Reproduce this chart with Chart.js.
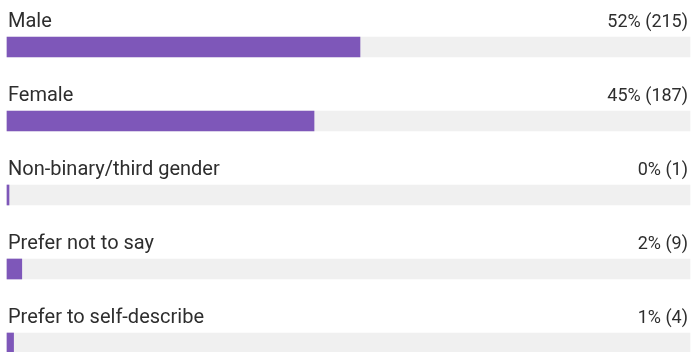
<!DOCTYPE html>
<html>
<head>
<meta charset="utf-8">
<script src="https://cdn.jsdelivr.net/npm/chart.js@4"></script>
<style>
  html, body { margin: 0; padding: 0; background: #fff; }
  #wrap { position: relative; width: 691px; height: 352px; }
</style>
</head>
<body>
<div id="wrap"><canvas id="genderChart"></canvas></div>
<script>
// Answers to the gender question
const categories = ['Male', 'Female', 'Non-binary/third gender', 'Prefer not to say', 'Prefer to self-describe'];
const counts = [215, 187, 1, 9, 4];

const barColor = '#7e57b9';
const trackColor = '#f0f0f0';
const textColor = '#2e2e2e';
const nameFont = '20px Roboto, "Noto Sans", sans-serif';
const valueFont = '18px Roboto, "Noto Sans", sans-serif';

const total = counts.reduce((a, b) => a + b, 0);
const trackValues = counts.map(() => total);

// Category name above each bar (left) and "pct% (n)" (right)
const barLabels = {
    id: 'barLabels',
    afterDatasetsDraw(chart) {
        const ctx = chart.ctx;
        const area = chart.chartArea;
        const meta = chart.getDatasetMeta(1);
        ctx.save();
        ctx.fillStyle = textColor;
        ctx.textBaseline = 'alphabetic';
        meta.data.forEach((bar, i) => {
            const y = bar.y - 20;
            ctx.font = nameFont;
            ctx.textAlign = 'left';
            ctx.fillText(categories[i], area.left + 1, y);
            ctx.font = valueFont;
            ctx.textAlign = 'right';
            const pct = Math.round(counts[i] / total * 100);
            ctx.fillText(`${pct}% (${counts[i]})`, area.right - 2, y);
        });
        ctx.restore();
    }
};

new Chart(document.getElementById('genderChart').getContext('2d'), {
    type: 'bar',
    data: {
        labels: categories,
        datasets: [
            {
                label: 'total',
                data: trackValues,
                backgroundColor: trackColor,
                barThickness: 20,
                grouped: false,
                order: 2,
                clip: false
            },
            {
                label: 'responses',
                data: counts,
                backgroundColor: barColor,
                barThickness: 20,
                minBarLength: 2,
                grouped: false,
                order: 1,
                clip: false
            }
        ]
    },
    options: {
        indexAxis: 'y',
        responsive: true,
        maintainAspectRatio: false,
        animation: false,
        layout: { padding: { top: 47, bottom: 9, left: 7, right: 1 } },
        plugins: {
            legend: { display: false },
            tooltip: { enabled: false }
        },
        scales: {
            x: { display: false, min: 0, max: total },
            y: { display: false, offset: false }
        }
    },
    plugins: [barLabels]
});
</script>
</body>
</html>
